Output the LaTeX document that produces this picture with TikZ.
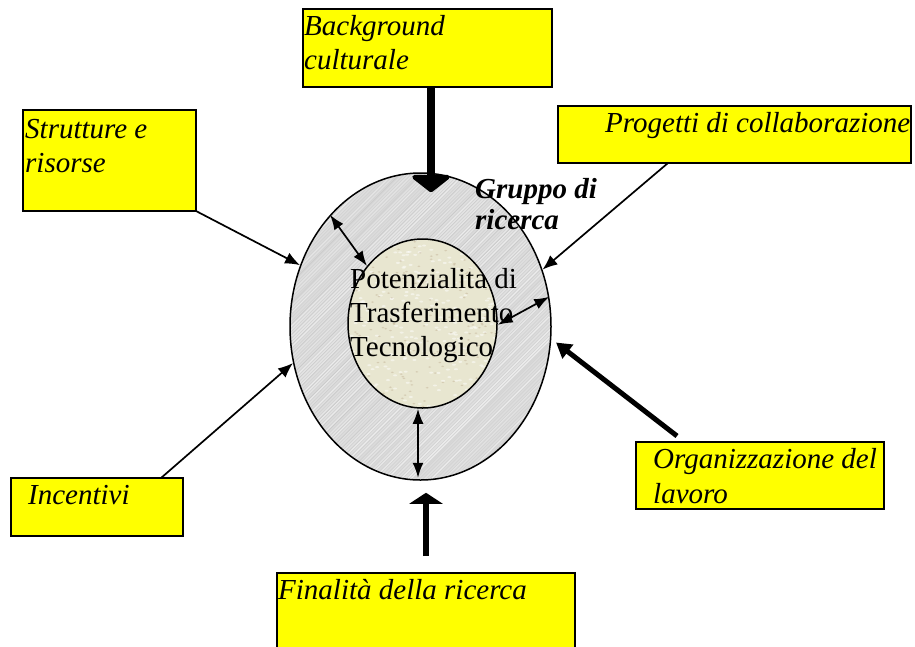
\documentclass[tikz,border=0pt]{standalone}
\usepackage{fontspec}
\setmainfont{Liberation Serif}
\usetikzlibrary{arrows.meta,shapes.geometric}
\definecolor{boxyellow}{RGB}{255,255,0}
\definecolor{ringgray}{RGB}{212,212,212}
\definecolor{corebeige}{RGB}{232,230,208}
\begin{document}
\begin{tikzpicture}[x=1pt,y=-1pt,
  ybox/.style={draw=black, line width=1.5pt, fill=boxyellow, inner sep=0pt, outer sep=0pt, anchor=north west},
  lbl/.style={inner sep=0pt, anchor=base west, font=\fontsize{29}{34}\selectfont\itshape},
  glbl/.style={inner sep=0pt, anchor=base west, font=\fontsize{29}{34}\selectfont\bfseries\itshape},
  plbl/.style={inner sep=0pt, anchor=base west, font=\fontsize{29}{34}\selectfont},
  thinarrow/.style={line width=1.7pt, -{Latex[length=15pt,width=12pt]}},
  twoway/.style={line width=1.7pt, {Latex[length=15pt,width=11pt]}-{Latex[length=15pt,width=11pt]}},
  heavyarrow/.style={line width=5pt, -{Triangle[length=15pt,width=17pt]}},
  flatarrow/.style={line width=6pt, -{Triangle[length=11pt,width=33pt]}},
  bigarrow/.style={line width=8pt, -{Triangle[length=18pt,width=45pt,round]}},
  ring/.style={ellipse, draw=black, line width=1.5pt, inner sep=0pt, fill=ringgray,
    path picture={
      \pgfmathsetseed{11}
      \foreach \k in {-90,...,90}{
        \pgfmathsetmacro{\op}{0.15+0.45*rnd}
        \draw[white, opacity=\op, line width=1.2pt]
          ([xshift=\k*3.4pt-220pt, yshift=-220pt]path picture bounding box.center) -- ++(440pt,440pt);
      }
      \foreach \k in {-30,...,30}{
        \pgfmathsetmacro{\op}{0.02+0.05*rnd}
        \draw[black, opacity=\op, line width=0.6pt]
          ([xshift=\k*10.3pt-218pt, yshift=-220pt]path picture bounding box.center) -- ++(440pt,440pt);
      }
    }},
  core/.style={ellipse, draw=black, line width=1.5pt, inner sep=0pt, fill=corebeige,
    path picture={
      \pgfmathsetseed{5}
      \foreach \k in {1,...,260}{
        \pgfmathsetmacro{\dx}{150*rnd-75}
        \pgfmathsetmacro{\dy}{170*rnd-85}
        \fill[white, opacity=0.5] ([xshift=\dx pt, yshift=\dy pt]path picture bounding box.center) ellipse [x radius=2pt, y radius=1pt];
      }
      \foreach \k in {1,...,200}{
        \pgfmathsetmacro{\dx}{150*rnd-75}
        \pgfmathsetmacro{\dy}{170*rnd-85}
        \fill[brown!50!gray, opacity=0.25] ([xshift=\dx pt, yshift=\dy pt]path picture bounding box.center) ellipse [x radius=1.5pt, y radius=0.8pt];
      }
    }}
]
\useasboundingbox (0,0) rectangle (915,646);

% research group ring and its core
\node[ring, minimum width=261pt, minimum height=307pt] (grp) at (420.5,326.5) {};
\node[core, minimum width=149pt, minimum height=169pt] (pot) at (422.5,323.5) {};

% factor boxes
\node[ybox, minimum width=249pt, minimum height=78pt] (bg) at (303,9) {};
\node[ybox, minimum width=173pt, minimum height=101pt] (str) at (23,110) {};
\node[ybox, minimum width=353pt, minimum height=57pt] (pg) at (558,106) {};
\node[ybox, minimum width=172pt, minimum height=58pt] (inc) at (11,478) {};
\node[ybox, minimum width=248pt, minimum height=67pt] (org) at (636,442) {};
\node[ybox, minimum width=298pt, minimum height=90pt] (fin) at (277,573) {};

% influences on the group
\draw[bigarrow] ([xshift=128pt]bg.south west) -- ([xshift=10.5pt,yshift=-20pt]grp.north);
\draw[thinarrow] (str.south east) -- (grp.153);
\draw[thinarrow] ([xshift=110pt]pg.south west) -- (grp.25);
\draw[thinarrow] ([xshift=150pt]inc.north west) -- (grp.196);
\draw[heavyarrow] ([xshift=41pt,yshift=6pt]org.north west) -- ([xshift=5pt]grp.-7);
\draw[flatarrow] ([xshift=149pt,yshift=17pt]fin.north west) -- ([xshift=5.5pt,yshift=-12pt]grp.south);

% exchanges between ring and core
\draw[twoway] (grp.129) -- (pot.134);
\draw[twoway] (grp.13) -- (pot.-1);
\draw[twoway] ([xshift=-4.5pt]pot.south) -- ([xshift=-4.5pt,yshift=3pt]pot.south |- grp.south);

% labels
\node[lbl] (bg1) at (304,35) {Background};
\node[lbl] (bg2) at (304,69) {culturale};
\node[lbl] (st1) at (25,138) {Strutture e};
\node[lbl] (st2) at (25,172) {risorse};
\node[lbl] (pg1) at (605,132) {Progetti di collaborazione};
\node[lbl] (in1) at (28,504) {Incentivi};
\node[lbl] (or1) at (653,468) {Organizzazione del};
\node[lbl] (or2) at (653,503) {lavoro};
\node[lbl] (fi1) at (278,599) {Finalità della ricerca};
\node[glbl] (gr1) at (475,198) {Gruppo di};
\node[glbl] (gr2) at (475,229) {ricerca};
\node[plbl] (pt1) at (350,288) {Potenzialita di};
\node[plbl] (pt2) at (350,322) {Trasferimento};
\node[plbl] (pt3) at (350,356) {Tecnologico};
\end{tikzpicture}
\end{document}
